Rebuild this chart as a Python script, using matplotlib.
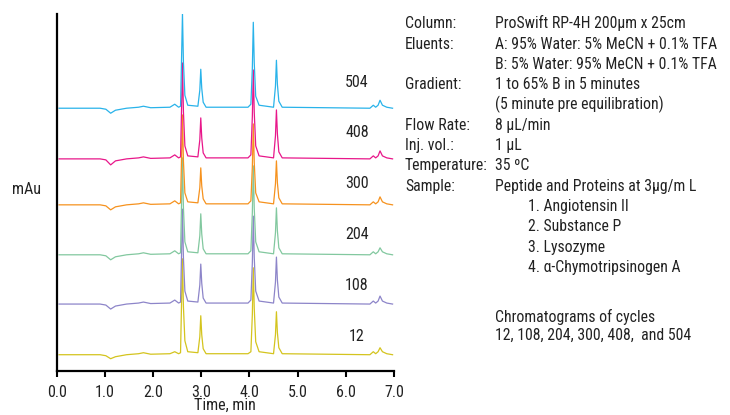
import matplotlib
matplotlib.use("Agg")
import matplotlib.pyplot as plt
from matplotlib import font_manager as fm

# narrow sans, like the Arial Narrow in the original
available = {f.name for f in fm.fontManager.ttflist}
narrow = [n for n in ["Liberation Sans Narrow", "Arial Narrow", "Roboto Condensed",
                      "PT Sans Narrow", "Archivo Narrow", "Liberation Sans"] if n in available]
plt.rcParams['font.family'] = [narrow[0], 'DejaVu Sans']

# retention times sampled along each trace (min)
times = [0.05, 0.9, 1.02, 1.12, 1.22, 1.45, 1.7, 1.8, 1.95, 2.35, 2.45, 2.53,
         2.57, 2.59, 2.61, 2.63, 2.66, 2.72, 2.93, 2.97, 2.99, 3.01, 3.04, 3.1,
         3.97, 4.03, 4.06, 4.08, 4.10, 4.13, 4.2, 4.50, 4.54, 4.56, 4.58, 4.61,
         4.68, 6.5, 6.57, 6.62, 6.67, 6.71, 6.76, 6.85, 6.97]

cycles = ["12", "108", "204", "300", "408", "504"]

# signal above each trace's own baseline (mAu)
sig_12 = [0, 0, -1, -4, -2, 0, 1, 2, 0.5, 1, 3, 1,
          2, 50, 96, 48, 14, 3, 2, 18, 39, 20, 6, 1,
          1, 3, 40, 87, 46, 13, 3, 1, 20, 43, 22, 7,
          1, 0, 3, 1, 3, 7, 3, 1, 0]
sig_108 = [0, 0, -1, -5, -2, 0, 1, 2, 0.5, 1, 4, 1,
           2, 48, 95, 46, 13, 3, 2, 19, 40, 21, 6, 1,
           1, 4, 41, 88, 46, 13, 3, 1, 22, 47, 24, 7,
           1, 0, 3, 1, 3, 8, 3, 1, 0]
sig_204 = [0, 0, -1, -5, -2, 0, 1, 2, 0.5, 1, 4, 1,
           2, 49, 97, 47, 13, 3, 2, 19, 41, 21, 6, 1,
           1, 4, 42, 89, 46, 13, 3, 1, 22, 47, 24, 7,
           1, 0, 3, 1, 3, 7, 3, 1, 0]
sig_300 = [0, 0, -1, -5, -2, 0, 1, 2, 0.5, 1, 4, 1,
           2, 45, 90, 44, 12, 3, 2, 17, 37, 19, 6, 1,
           1, 4, 38, 81, 42, 12, 3, 1, 21, 44, 22, 7,
           1, 0, 3, 1, 3, 8, 3, 1, 0]
sig_408 = [0, 0, -1, -6, -2, 0, 1, 2, 0.5, 1, 4, 1,
           2, 48, 96, 47, 13, 3, 2, 19, 41, 21, 6, 1,
           1, 4, 42, 89, 46, 13, 3, 1, 23, 49, 25, 7,
           1, 0, 3, 1, 3, 8, 3, 1, 0]
sig_504 = [0, 0, -1, -5, -2, 0, 1, 2, 0.5, 1, 4, 1,
           2, 47, 95, 46, 13, 3, 2, 18, 39, 20, 6, 1,
           1, 4, 40, 86, 45, 12, 3, 1, 22, 48, 24, 7,
           1, 0, 3, 1, 3, 8, 3, 1, 0]
signals = [sig_12, sig_108, sig_204, sig_300, sig_408, sig_504]

offsets = [16, 66.7, 116, 166, 212, 262.7]
label_y = [34, 85, 136, 187, 238, 288]
colors = ["#d4c41e", "#8d85c9", "#82c89f", "#f6921e", "#e8178a", "#29b3ea"]

info_rows = [
    ("Column:", "ProSwift RP-4H 200\u00b5m x 25cm", 28.3),
    ("Eluents:", "A: 95% Water: 5% MeCN + 0.1% TFA", 48.6),
    ("", "B: 5% Water: 95% MeCN + 0.1% TFA", 68.9),
    ("Gradient:", "1 to 65% B in 5 minutes", 89.2),
    ("", "(5 minute pre equilibration)", 109.5),
    ("Flow Rate:", "8 \u00b5L/min", 129.8),
    ("Inj. vol.:", "1 \u00b5L", 150.1),
    ("Temperature:", "35 \u00baC", 170.4),
    ("Sample:", "Peptide and Proteins at 3\u00b5g/m L", 190.7),
]
sample_rows = [("1. Angiotensin II", 211.0), ("2. Substance P", 231.3),
               ("3. Lysozyme", 251.6), ("4. \u03b1-Chymotripsinogen A", 271.9)]
note_rows = [("Chromatograms of cycles", 321.7),
             ("12, 108, 204, 300, 408,  and 504", 340.0)]

W, H = 730, 415
fig = plt.figure(figsize=(7.3, 4.15), dpi=100)
ax = fig.add_axes([56.7 / W, 1 - 370.7 / H, (394 - 56.7) / W, (370.7 - 14) / H])

for sig, off, col, lab, ly in zip(signals, offsets, colors, cycles, label_y):
    ax.plot(times, [off + s for s in sig], color=col, lw=0.9)
    ax.text(6.23, ly, lab, ha="center", va="center", fontsize=11.5, color="#222222")

ax.set_xlim(0, 7)
ax.set_ylim(0, 357)
ax.set_xticks(range(8))
ax.set_xticklabels([f"{i}.0" for i in range(8)], fontsize=11.5, color="#222222")
ax.set_yticks([])
ax.tick_params(axis="x", direction="out", length=4, width=1.5, pad=6)
for s in ["top", "right"]:
    ax.spines[s].set_visible(False)
for s in ["left", "bottom"]:
    ax.spines[s].set_linewidth(1.6)
ax.patch.set_visible(False)

fig.text((56.7 + 394) / 2 / W, 1 - 410 / H, "Time, min", ha="center", va="baseline",
         fontsize=11.5, color="#222222")
fig.text(12 / W, 1 - 194 / H, "mAu", ha="left", va="baseline", fontsize=11.5, color="#222222")

for left, right, yb in info_rows:
    fig.text(405 / W, 1 - yb / H, left, ha="left", va="baseline", fontsize=11.3, color="#222222")
    fig.text(495 / W, 1 - yb / H, right, ha="left", va="baseline", fontsize=11.3, color="#222222")
for txt, yb in sample_rows:
    fig.text(528 / W, 1 - yb / H, txt, ha="left", va="baseline", fontsize=11.3, color="#222222")
for txt, yb in note_rows:
    fig.text(495 / W, 1 - yb / H, txt, ha="left", va="baseline", fontsize=11.3, color="#222222")

fig.savefig("out.png", dpi=100)
